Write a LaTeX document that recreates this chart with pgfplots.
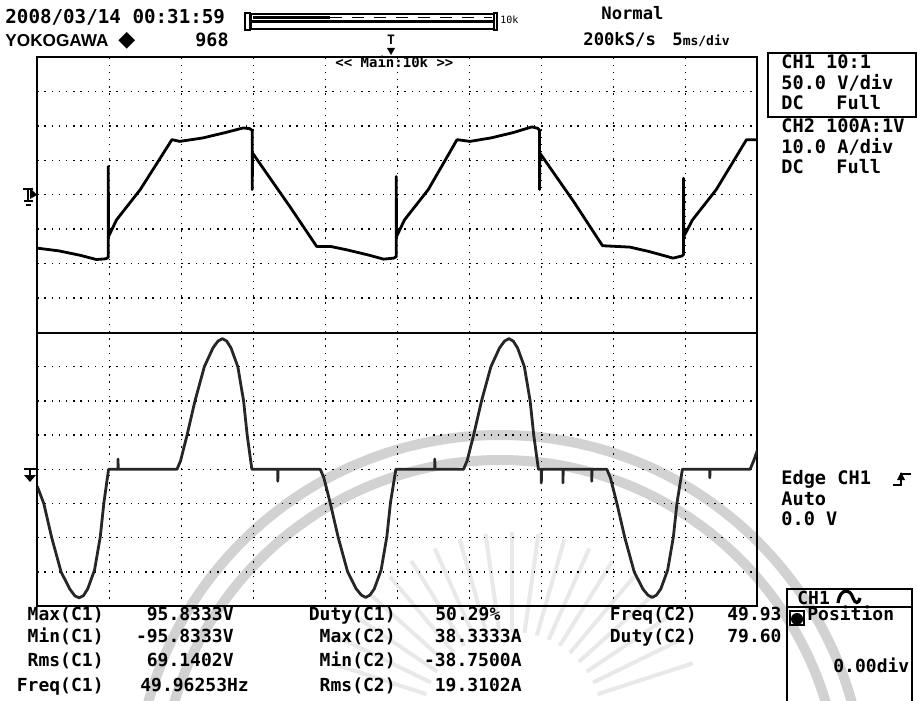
\documentclass[border=0pt]{standalone}
\usepackage{pgfplots}
\pgfplotsset{compat=1.18}
\usepackage{fontspec}
\setmainfont{DejaVu Sans Mono}
\newfontfamily\logo{Liberation Sans}
\newfontfamily\sym{DejaVu Sans}
\newcommand\fs[1]{\fontsize{#1}{#1}\selectfont\bfseries}

% one screen division = 72 px wide, 34.3 px high (0.5pt per px)
\pgfplotsset{osc/.style={
  scale only axis, width=360pt,
  xmin=0, xmax=10, ymin=-4, ymax=4,
  xtick={1,...,9}, ytick={-3,...,3},
  xticklabels={}, yticklabels={},
  major tick length=0pt, grid=major,
  grid style={black, line width=0.7pt, dash pattern=on 0.7pt off 2.9pt},
  axis line style={black, line width=1pt},
  anchor=south west, clip=true,
}}

\begin{document}
\begin{tikzpicture}
\path[use as bounding box] (0pt,0pt) rectangle (458.5pt,-350.5pt);

% watermark
\begin{scope}[x=0.5pt,y=-0.5pt]
\clip (0,0) rectangle (917,701);
\draw[gray!35, line width=5pt] (500,800) circle[radius=182.5pt];
\draw[gray!35, line width=5pt] (500,800) circle[radius=170pt];
\foreach \a in {18,26,...,162}
  \draw[gray!17, line width=2pt, shift={(512,722)}] (\a:45pt) -- (\a:95pt);
\end{scope}

% CH1 voltage, 50 V/div
\begin{axis}[osc, at={(18.65pt,-166.25pt)}, height=137.75pt]
\addplot[black, line width=1.4pt, line join=round] coordinates {
(0,-1.55)(0.3,-1.63)(0.6,-1.76)(0.82,-1.88)(0.95,-1.86)(0.985,-1.82)
(0.985,0.82)(0.99,-1.21)(1.1,-0.73)(1.43,0.15)(1.87,1.6)(1.98,1.55)
(2.3,1.65)(2.6,1.8)(2.86,1.94)(2.95,1.92)(2.985,1.87)(2.985,0.15)
(2.99,1.21)(3.51,-0.35)(3.88,-1.5)(4.07,-1.5)(4.3,-1.6)(4.6,-1.75)
(4.81,-1.87)(4.95,-1.84)(4.985,-1.8)(4.985,0.53)(4.99,-1.21)(5.1,-0.73)
(5.43,0.15)(5.83,1.6)(6.01,1.55)(6.3,1.65)(6.6,1.8)(6.87,1.97)(6.95,1.93)
(6.975,1.88)(6.975,0.15)(6.98,1.21)(7.45,-0.2)(7.85,-1.48)(8.23,-1.52)
(8.5,-1.65)(8.83,-1.84)(8.95,-1.78)(8.975,-1.74)(8.975,0.48)(8.98,-1.21)
(9.1,-0.73)(9.43,0.15)(9.85,1.6)(10,1.6)};
\end{axis}

% CH2 current, 10 A/div
\begin{axis}[osc, at={(18.65pt,-303pt)}, height=136.75pt]
\addplot[black!85, line width=1.4pt, line join=round] coordinates {
(0,-0.5)(0.09,-1)(0.2,-2)(0.33,-3)(0.45,-3.5)(0.52,-3.7)(0.58,-3.76)
(0.64,-3.7)(0.7,-3.5)(0.795,-2.95)(0.875,-1.97)(0.925,-0.98)(0.99,0)
(1.12,0)(1.12,0.3)(1.125,0)(1.94,0)
(1.99,0.25)(2.08,1)(2.19,2)(2.32,3)(2.44,3.55)(2.51,3.75)(2.57,3.82)
(2.63,3.75)(2.69,3.55)(2.785,3)(2.865,2)(2.915,1)(2.98,0)
(3.34,0)(3.34,-0.35)(3.345,0)(3.93,0)
(3.98,-0.25)(4.07,-1)(4.18,-2)(4.31,-3)(4.43,-3.5)(4.5,-3.68)(4.56,-3.75)
(4.62,-3.68)(4.68,-3.5)(4.775,-2.95)(4.855,-1.97)(4.905,-0.98)(4.98,0)
(5.52,0)(5.52,0.3)(5.525,0)(5.92,0)
(5.97,0.25)(6.06,1)(6.17,2)(6.3,3)(6.42,3.55)(6.49,3.75)(6.55,3.82)
(6.61,3.75)(6.67,3.55)(6.765,3)(6.845,2)(6.895,1)(6.96,0)
(7,0)(7,-0.4)(7.005,0)(7.3,0)(7.3,-0.4)(7.305,0)(7.7,0)(7.7,-0.35)(7.705,0)(7.91,0)
(7.96,-0.25)(8.05,-1)(8.16,-2)(8.29,-3)(8.41,-3.5)(8.48,-3.68)(8.54,-3.75)
(8.6,-3.68)(8.66,-3.5)(8.755,-2.95)(8.835,-1.97)(8.885,-0.98)(8.96,0)
(9.34,0)(9.34,-0.25)(9.345,0)(9.9,0)(9.95,0.25)(10,0.55)};
\end{axis}

\begin{scope}[x=0.5pt,y=-0.5pt, every node/.style={inner sep=0pt, anchor=base west}]
% header
\node at (5,24) {\fs{9.6}2008/03/14 00:31:59};
\node at (5,47) {\logo\fontsize{8.6}{8.6}\selectfont\bfseries YOKOGAWA};
\node at (118,47) {\sym\fontsize{11}{11}\selectfont ◆};
\node at (195,47) {\fs{9.2}968};
\draw[line width=0.8pt] (245,13) rectangle (250,30);
\draw[line width=0.8pt] (251,14) rectangle (494,21);
\draw[line width=0.8pt] (251,22) rectangle (494,29);
\draw[line width=0.8pt] (494,13) rectangle (497,30);
\draw[line width=1.4pt] (253,17.5) -- (330,17.5);
\draw[line width=0.6pt, dash pattern=on 6pt off 5pt] (330,17.5) -- (492,17.5);
\node at (500,24) {\fontsize{5}{5}\selectfont 10k};
\node at (601,20) {\fs{8.6}Normal};
\node at (583,46) {\fs{8.6}200kS/s};
\node at (672,46) {\fs{8.6}5\fontsize{6.5}{6.5}\selectfont ms/div};
\node[anchor=base] at (391,45) {\fs{6.5}T};
\fill (387,48) -- (395,48) -- (391,55) -- cycle;
\node at (335,68) {\fs{7}<{}< Main:10k >{}>};
% ground markers
\draw[line width=1.2pt] (23,189) -- (33,189) (28,189) -- (28,201) (24,201) -- (33,201) (26,205) -- (31,205);
\fill (30,188) -- (37,195) -- (30,199) -- cycle;
\draw[line width=1.4pt] (24,469) -- (36,469) (30,469) -- (30,475);
\fill (24,475) -- (36,475) -- (30,482) -- cycle;
% right panel
\draw[line width=1.1pt] (768,53) -- (916,53) -- (916,117) -- (768,117) -- cycle;
\node at (781,69) {\fs{9.3}CH1 10:1};
\node at (781,90) {\fs{9.3}50.0 V/div};
\node at (781,110) {\fs{9.3}DC};
\node at (836,110) {\fs{9.3}Full};
\node at (781,133) {\fs{9.3}CH2 100A:1V};
\node at (781,154) {\fs{9.3}10.0 A/div};
\node at (781,174) {\fs{9.3}DC};
\node at (836,174) {\fs{9.3}Full};
\node at (781,484) {\fs{9.3}Edge CH1};
\draw[line width=1.3pt] (893,485) -- (901,485) -- (901,474) -- (911,474);
\fill (897,480) -- (905,480) -- (901,472) -- cycle;
\node at (781,505) {\fs{9.3}Auto};
\node at (781,525) {\fs{9.3}0.0 V};
% measurements
\begin{scope}[every node/.style={inner sep=0pt, anchor=base east}]
\node at (104,620) {\fs{9}Max(C1)};
\node at (104,642) {\fs{9}Min(C1)};
\node at (104,666) {\fs{9}Rms(C1)};
\node at (104,691) {\fs{9}Freq(C1)};
\node at (234,620) {\fs{9}95.8333V};
\node at (234,642) {\fs{9}-95.8333V};
\node at (234,666) {\fs{9}69.1402V};
\node at (396,620) {\fs{9}Duty(C1)};
\node at (396,642) {\fs{9}Max(C2)};
\node at (396,666) {\fs{9}Min(C2)};
\node at (396,691) {\fs{9}Rms(C2)};
\node at (522,642) {\fs{9}38.3333A};
\node at (522,666) {\fs{9}-38.7500A};
\node at (522,691) {\fs{9}19.3102A};
\node at (697,620) {\fs{9}Freq(C2)};
\node at (697,642) {\fs{9}Duty(C2)};
\end{scope}
\node at (140,691) {\fs{9}49.96253Hz};
\node at (435,620) {\fs{9}50.29\%};
\node at (727,620) {\fs{9}49.93};
\node at (727,642) {\fs{9}79.60};
% position box
\draw[line width=1.1pt] (787,589) rectangle (912,607);
\draw[line width=1.1pt] (787,607) -- (787,701) (912,607) -- (912,701);
\node at (797,604) {\fs{9}CH1};
\draw[line width=1.6pt] (838,603) .. controls (840,588) and (850,588) .. (853,598) .. controls (855,604) and (859,604) .. (860,598);
\fill[white] (788,608) rectangle (805,626);
\draw[line width=0.9pt] (790,611) rectangle (804,625);
\fill (797,619) circle[radius=3pt];
\node at (807,620) {\fs{9}Position};
\node at (833,672) {\fs{9}0.00div};
\end{scope}
\end{tikzpicture}
\end{document}
